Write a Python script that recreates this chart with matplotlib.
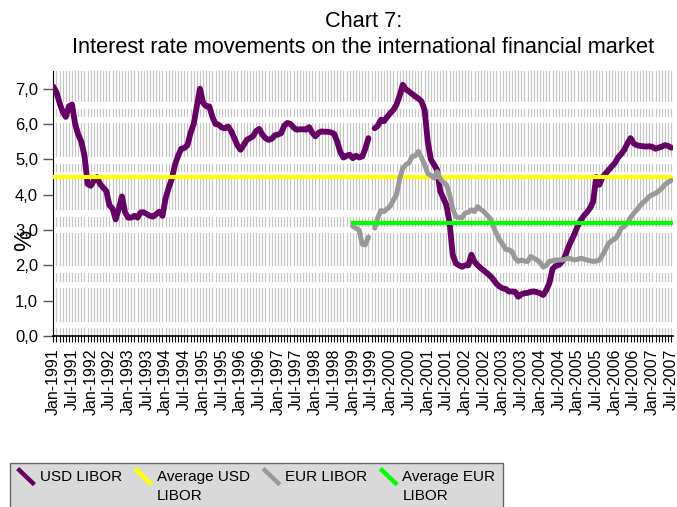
import numpy as np
import matplotlib
matplotlib.use("Agg")
import matplotlib.pyplot as plt
from matplotlib.lines import Line2D
from matplotlib.legend_handler import HandlerBase
from matplotlib.ticker import FuncFormatter

plt.rcParams['font.family'] = ['Liberation Sans', 'DejaVu Sans']

nan = np.nan

# monthly values, Jan-1991 .. Jul-2007
usd_libor = [
    7.06, 6.9, 6.6, 6.35, 6.2, 6.5, 6.55, 6.0, 5.7, 5.5,
    5.1, 4.3, 4.25, 4.4, 4.5, 4.3, 4.2, 4.1, 3.7, 3.6,
    3.3, 3.6, 3.95, 3.5, 3.35, 3.35, 3.4, 3.35, 3.5, 3.5,
    3.45, 3.4, 3.38, 3.45, 3.52, 3.4, 3.9, 4.2, 4.45, 4.85,
    5.1, 5.3, 5.32, 5.4, 5.75, 6.0, 6.5, 7.0, 6.6, 6.5,
    6.5, 6.2, 6.0, 5.98, 5.9, 5.88, 5.93, 5.8, 5.6, 5.4,
    5.27, 5.4, 5.55, 5.6, 5.65, 5.8, 5.86, 5.7, 5.6, 5.55,
    5.58, 5.68, 5.7, 5.74, 5.95, 6.03, 6.0, 5.9, 5.84, 5.85,
    5.85, 5.84, 5.91, 5.75, 5.65, 5.75, 5.79, 5.78, 5.78, 5.76,
    5.72, 5.5, 5.2, 5.05, 5.1, 5.13, 5.03, 5.1, 5.05, 5.08,
    5.3, 5.6, nan, 5.88, 5.95, 6.12, 6.08, 6.2, 6.31, 6.4,
    6.55, 6.8, 7.11, 6.98, 6.92, 6.85, 6.78, 6.72, 6.64, 6.4,
    5.5, 5.0, 4.85, 4.7, 4.1, 3.9, 3.7, 3.2, 2.3, 2.06,
    2.0, 1.96, 2.0, 2.0, 2.3, 2.1, 2.0, 1.92, 1.85, 1.78,
    1.7, 1.6, 1.48, 1.4, 1.35, 1.33, 1.26, 1.26, 1.25, 1.11,
    1.18, 1.21, 1.22, 1.25, 1.26, 1.24, 1.21, 1.16, 1.3, 1.5,
    1.9, 1.98, 2.01, 2.1, 2.25, 2.5, 2.7, 2.88, 3.1, 3.27,
    3.4, 3.5, 3.62, 3.8, 4.5, 4.28, 4.5, 4.6, 4.7, 4.8,
    4.9, 5.05, 5.15, 5.27, 5.45, 5.6, 5.45, 5.4, 5.38, 5.37,
    5.36, 5.37, 5.35, 5.3, 5.33, 5.36, 5.4, 5.38, 5.33,
]

# EUR LIBOR starts Jan-1999
eur_start = 96
eur_libor = [
    3.1, 3.05, 3.0, 2.6, 2.58, 2.8, nan, 3.05, 3.35, 3.55,
    3.52, 3.6, 3.68, 3.85, 4.0, 4.45, 4.75, 4.85, 4.9, 5.08,
    5.1, 5.22, 5.05, 4.85, 4.6, 4.55, 4.47, 4.65, 4.45, 4.35,
    4.28, 4.0, 3.6, 3.38, 3.35, 3.35, 3.48, 3.5, 3.57, 3.52,
    3.66, 3.58, 3.52, 3.42, 3.33, 3.1, 2.9, 2.72, 2.6, 2.45,
    2.44, 2.39, 2.2, 2.11, 2.15, 2.12, 2.11, 2.25, 2.2, 2.15,
    2.08, 1.95, 2.0, 2.11, 2.13, 2.15, 2.15, 2.15, 2.17, 2.2,
    2.18, 2.15, 2.17, 2.2, 2.18, 2.15, 2.13, 2.11, 2.12, 2.15,
    2.29, 2.45, 2.63, 2.7, 2.75, 2.86, 3.05, 3.1, 3.2, 3.35,
    3.47, 3.57, 3.68, 3.78, 3.85, 3.95, 4.0, 4.04, 4.1, 4.18,
    4.28, 4.35, 4.4,
]

usd_avg = 4.5
eur_avg = 3.2

tick_labels = [
    "Jan-1991", "Jul-1991", "Jan-1992", "Jul-1992", "Jan-1993", "Jul-1993",
    "Jan-1994", "Jul-1994", "Jan-1995", "Jul-1995", "Jan-1996", "Jul-1996",
    "Jan-1997", "Jul-1997", "Jan-1998", "Jul-1998", "Jan-1999", "Jul-1999",
    "Jan-2000", "Jul-2000", "Jan-2001", "Jul-2001", "Jan-2002", "Jul-2002",
    "Jan-2003", "Jul-2003", "Jan-2004", "Jul-2004", "Jan-2005", "Jul-2005",
    "Jan-2006", "Jul-2006", "Jan-2007", "Jul-2007",
]

# white stripes seen across the hatched plot area
bands = [(6.43, 6.63), (6.04, 6.21), (4.87, 5.07), (4.48, 4.65),
         (3.37, 3.57), (2.92, 3.09), (1.79, 1.98), (1.36, 1.53), (0.23, 0.40)]


class DiagonalHandler(HandlerBase):
    # Excel-style slanted legend key, placed on the first text line
    def create_artists(self, legend, orig_handle, xdescent, ydescent,
                       width, height, fontsize, trans):
        lift = 0.6 * fontsize
        x0 = -xdescent
        line = Line2D([x0, x0 + width], [lift + 0.95 * fontsize, lift - 0.1 * fontsize],
                      color=orig_handle.get_color(), lw=3.2,
                      solid_capstyle='butt', transform=trans)
        return [line]


months = np.arange(len(usd_libor))
eur_months = months[eur_start:eur_start + len(eur_libor)]

fig = plt.figure(figsize=(6.77, 5.07), dpi=100)
ax = fig.add_axes([0.0787, 0.3373, 0.9154, 0.5227])

for lo, hi in bands:
    ax.axhspan(lo, hi, color='white', zorder=1, lw=0)

usd_line, = ax.plot(months, usd_libor, color='#660066', lw=4.2,
                    solid_capstyle='round', solid_joinstyle='round', zorder=3)
usd_avg_line = ax.axhline(usd_avg, color='#FFFF00', lw=3.0, zorder=3)
eur_line, = ax.plot(eur_months, eur_libor, color='#999999', lw=3.6,
                    solid_capstyle='round', solid_joinstyle='round', zorder=3)
eur_avg_line, = ax.plot(eur_months, [eur_avg] * len(eur_months), color='#00FF00',
                        lw=3.0, zorder=3)

ax.set_xlim(0, 198.6)
ax.set_ylim(0, 7.5)

ax.set_xticks(months[::6][:len(tick_labels)])
ax.set_xticklabels(tick_labels, rotation=90, fontsize=11.5)
ax.set_xticks(months, minor=True)
ax.tick_params(axis='x', which='both', direction='out', length=4, width=0.8,
               color='black', pad=5)

ax.set_yticks(np.arange(0, 8, 1))
ax.yaxis.set_major_formatter(FuncFormatter(lambda v, _: f"{v:.1f}".replace('.', ',')))
ax.tick_params(axis='y', direction='out', length=7, width=1, color='#555555',
               labelsize=12, pad=4)

ax.set_axisbelow(True)
ax.grid(True, axis='x', which='both', color='#c6c6c6', lw=0.85)
for side in ('top', 'right'):
    ax.spines[side].set_visible(False)
ax.spines['left'].set_color('black')
ax.spines['bottom'].set_color('black')
ax.spines['bottom'].set_linewidth(1.2)

ax.text(-0.046, 0.362, "%", rotation=90, ha='center', va='center',
        fontsize=17, transform=ax.transAxes)

fig.text(0.537, 0.978, "Chart 7:\nInterest rate movements on the international financial market",
         ha='center', va='top', fontsize=15.7, linespacing=1.28)

leg = fig.legend([usd_line, usd_avg_line, eur_line, eur_avg_line],
                 ["USD LIBOR\n", "Average USD\nLIBOR", "EUR LIBOR\n", "Average EUR\nLIBOR"],
                 handler_map={Line2D: DiagonalHandler()},
                 loc='upper left', bbox_to_anchor=(0.0148, 0.0874), borderaxespad=0,
                 ncol=4, fontsize=11, frameon=True, fancybox=False, framealpha=1,
                 facecolor='#D9D9D9', edgecolor='#666666', handlelength=1.1,
                 handletextpad=0.35, columnspacing=0.85, borderpad=0.5)
leg.get_frame().set_linewidth(1.0)
for t in leg.get_texts():
    t.set_linespacing(1.45)

fig.savefig("out.png", dpi=100)
